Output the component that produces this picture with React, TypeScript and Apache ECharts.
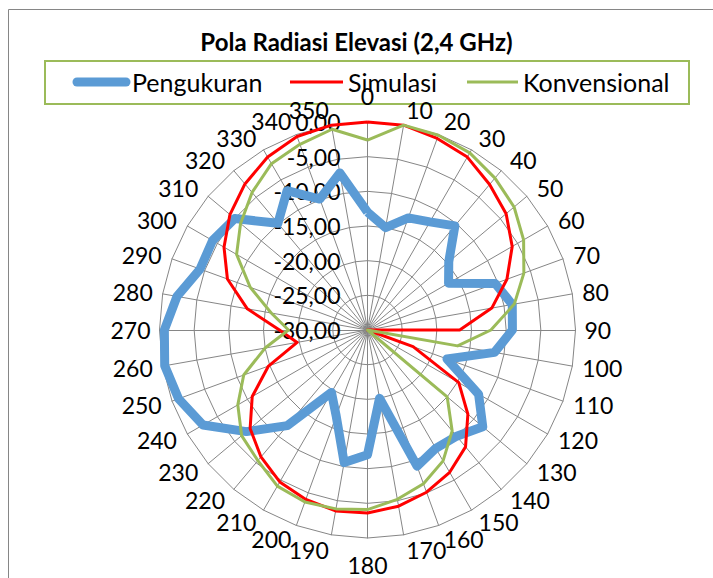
import React, { useEffect, useRef } from "react";
import * as echarts from "echarts";

const categories: string[] = [
  "0", "10", "20", "30", "40", "50", "60", "70", "80", "90", "100", "110",
  "120", "130", "140", "150", "160", "170", "180", "190", "200", "210", "220", "230",
  "240", "250", "260", "270", "280", "290", "300", "310", "320", "330", "340", "350",
];

const pengukuran: number[] = [
  -13, -15, -12.8, -12, -10.4, -14.7, -16.5, -10.4, -8.8, -9.1, -11.4, -17.8,
  -11.5, -8.3, -10, -10.3, -9.1, -20, -12, -10.6, -16.8, -19.6, -12, -7.2,
  -2.6, -1, -0.3, -0.7, -2.1, -4.3, -4.2, -5, -9.9, -6.8, -9.9, -7,
];

const simulasi: number[] = [
  0, 0, -0.6, -1.2, -2.6, -3.9, -5.9, -8.6, -11.8, -16.7, -30, -23,
  -14.8, -11.1, -8, -6.3, -5.1, -4.2, -3.6, -3.5, -4, -4.7, -6.1, -7.9,
  -10.8, -14.8, -19.7, -17.3, -12.4, -8.5, -6.1, -4.1, -2.5, -1.2, -0.3, 0,
];

const konvensional: number[] = [
  -2.6, 0, -0.1, -0.5, -1.4, -2.4, -4, -6, -8.5, -12.2, -16.8, -30,
  -30, -15, -11, -8.2, -6.4, -5.2, -4.1, -3.8, -3.6, -4, -5.4, -6.3,
  -8.4, -11, -15, -18.6, -15.9, -12, -8.2, -6.1, -4.1, -2.3, -1.5, -0.6,
];

const seriesNames: string[] = ["Pengukuran", "Simulasi", "Konvensional"];
const seriesColors: string[] = ["#5b9bd5", "#ff0000", "#9bbb59"];
const axisMin = -30;
const axisMax = 0;

const FONT = "Lato, 'Open Sans', sans-serif";

// ECharts radar lays indicators counter-clockwise; reorder to get clockwise.
const order: number[] = categories.map((_, k) => (categories.length - k) % categories.length);
const reorder = (arr: number[]) => order.map((k) => arr[k]);

const fmt = (v: number) => {
  const s = Math.abs(v).toFixed(2).replace(".", ",");
  return v < 0 ? "-" + s : s;
};

export default function App() {
  const ref = useRef<HTMLDivElement>(null);
  useEffect(() => {
    if (!ref.current) return;
    const chart = echarts.init(ref.current, null, { renderer: "svg" });
    const legendY = 82;
    const legendText = { fontSize: 25, fontFamily: FONT, fill: "#000", textVerticalAlign: "middle" };
    chart.setOption({
      animation: false,
      backgroundColor: "#ffffff",
      title: {
        text: "Pola Radiasi Elevasi (2,4 GHz)",
        left: "center",
        top: 24,
        textStyle: { fontFamily: FONT, fontWeight: "bold", fontSize: 24, color: "#000" },
      },
      radar: {
        center: [367.5, 330],
        radius: 208,
        startAngle: 90,
        shape: "polygon",
        splitNumber: 6,
        nameGap: 10,
        axisName: { color: "#000", fontSize: 23, fontFamily: FONT },
        indicator: order.map((k) => ({
          name: categories[k],
          min: axisMin,
          max: axisMax,
          nameGap: 9 + 6 * Math.abs(Math.cos((k * 10 * Math.PI) / 180)),
          axisLabel: { show: k === 0 },
        })),
        axisLine: { lineStyle: { color: "#868686", width: 1 } },
        splitLine: { lineStyle: { color: "#868686", width: 1 } },
        splitArea: { show: false },
        axisTick: { show: false },
        axisLabel: {
          show: false,
          color: "#000",
          fontSize: 23,
          fontFamily: FONT,
          margin: 27,
          align: "right",
          alignMinLabel: "right",
          alignMaxLabel: "right",
          formatter: (v: number) => fmt(v),
        },
      },
      graphic: [
        {
          type: "rect",
          shape: { x: 8.5, y: 9.5, width: 800, height: 700 },
          style: { fill: "none", stroke: "#868686", lineWidth: 1 },
          silent: true,
          z: -10,
        },
        {
          type: "rect",
          shape: { x: 45, y: 61, width: 644, height: 43 },
          style: { fill: "none", stroke: "#9bbb59", lineWidth: 2 },
          silent: true,
        },
        {
          type: "line",
          shape: { x1: 77, y1: legendY, x2: 126, y2: legendY },
          style: { stroke: seriesColors[0], lineWidth: 9, lineCap: "round" },
        },
        { type: "text", x: 132, y: legendY, style: { text: seriesNames[0], ...legendText } },
        {
          type: "line",
          shape: { x1: 290, y1: legendY, x2: 343, y2: legendY },
          style: { stroke: seriesColors[1], lineWidth: 3 },
        },
        { type: "text", x: 348, y: legendY, style: { text: seriesNames[1], ...legendText } },
        {
          type: "line",
          shape: { x1: 467, y1: legendY, x2: 518, y2: legendY },
          style: { stroke: seriesColors[2], lineWidth: 3 },
        },
        { type: "text", x: 523, y: legendY, style: { text: seriesNames[2], ...legendText } },
      ],
      series: [pengukuran, simulasi, konvensional].map((arr, i) => ({
        type: "radar",
        name: seriesNames[i],
        symbol: "none",
        lineStyle: { color: seriesColors[i], width: i === 0 ? 9 : 3 },
        itemStyle: { color: seriesColors[i] },
        data: [{ name: seriesNames[i], value: reorder(arr) }],
      })),
    });
    return () => chart.dispose();
  }, []);
  return (
    <div
      ref={ref}
      style={{ position: "fixed", left: 0, top: 0, width: 713, height: 578, background: "#fff" }}
    />
  );
}
